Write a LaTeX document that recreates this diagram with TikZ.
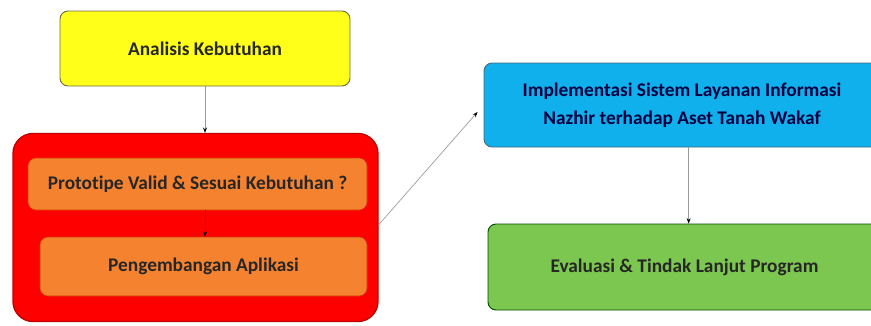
\documentclass[tikz,border=0pt]{standalone}
\usepackage{fontspec}
\setmainfont{Carlito}[Ligatures=NoCommon]
\usetikzlibrary{arrows.meta,calc}

\definecolor{kuning}{HTML}{FFFF1A}
\definecolor{merah}{HTML}{FF0000}
\definecolor{oranye}{HTML}{F5822F}
\definecolor{biru}{HTML}{0FB0EC}
\definecolor{hijau}{HTML}{7CC74F}

\begin{document}
\begin{tikzpicture}[
    x=0.75pt, y=-0.75pt,
    font=\bfseries\fontsize{14.5}{18}\selectfont,
    >={Stealth[length=4pt,width=3pt,black]},
    tahap/.style={rounded corners=6pt, line width=0.7pt, align=center, inner sep=0pt},
    kotakkuning/.style={tahap, draw=yellow!35!black, fill=kuning, minimum width=217.5pt, minimum height=56.25pt, text=black!85},
    kotakmerah/.style={draw=red!75!black, fill=merah, rounded corners=15pt, line width=1pt, minimum width=273.75pt, minimum height=141pt},
    kotakoranye/.style={tahap, draw=orange!60!red!80!black, fill=oranye, line width=0.4pt, text=black!85},
    kotakbiru/.style={tahap, draw=cyan!40!black, fill=biru, minimum width=297pt, minimum height=63pt, text=blue!25!black},
    kotakhijau/.style={tahap, draw=green!30!black, fill=hijau, minimum width=294.75pt, minimum height=64.5pt, text=black!85},
    panah/.style={->, draw=gray!80, line width=0.5pt}
]
    \useasboundingbox (0,0) rectangle (871,325);

    % kiri: analisis dan pengembangan
    \node[kotakkuning] (analisis) at (205,48.5) {Analisis Kebutuhan};
    \node[kotakmerah] (prototipe_grup) at (195.5,227.5) {};
    \node[kotakoranye, minimum width=254.25pt, minimum height=39pt] (prototipe) at (197.5,184) {Prototipe Valid \& Sesuai Kebutuhan ?};
    \node[kotakoranye, minimum width=245.25pt, minimum height=44.25pt] (pengembangan) at (203.5,266.5) {Pengembangan Aplikasi};

    % kanan: implementasi dan evaluasi
    \node[kotakbiru] (implementasi) at (682,105) {Implementasi Sistem Layanan Informasi\\[3pt] Nazhir terhadap Aset Tanah Wakaf};
    \node[kotakhijau] (evaluasi) at (684.5,267) {Evaluasi \& Tindak Lanjut Program};

    \draw[panah] (analisis.south) -- (analisis.south |- prototipe_grup.north);
    \draw[panah, draw=red!70!black] (analisis.south |- prototipe.south) -- (analisis.south |- pengembangan.north);
    \draw[panah] ([yshift=2pt]prototipe_grup.east) -- ($(implementasi.west)+(-6,7)$);
    \draw[panah] ([xshift=5pt]implementasi.south) -- ([xshift=5pt]implementasi.south |- evaluasi.north);

\end{tikzpicture}
\end{document}
